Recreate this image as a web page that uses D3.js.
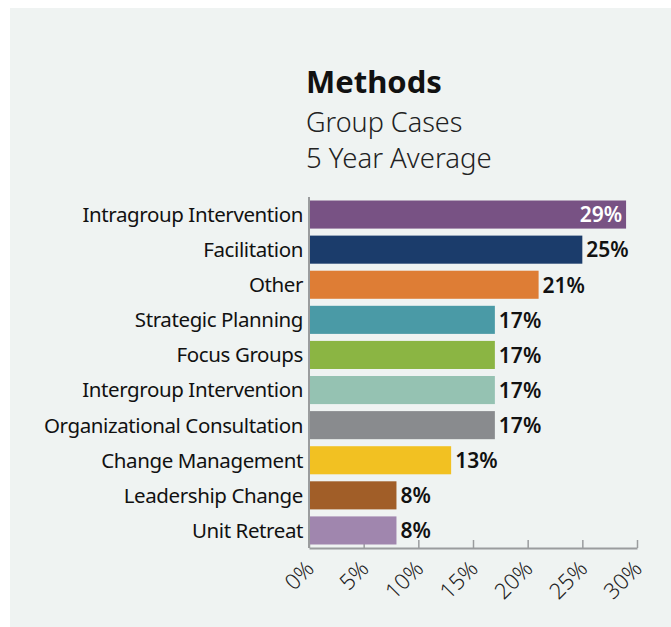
<!DOCTYPE html>
<html>
<head>
<meta charset="utf-8">
<script src="https://cdn.jsdelivr.net/npm/d3@7"></script>
<style>
body { margin: 0; background: #fff; }
text { font-family: "Noto Sans", sans-serif; }
</style>
</head>
<body>
<div id="chart"></div>
<script>
var categories = ["Intragroup Intervention", "Facilitation", "Other", "Strategic Planning",
  "Focus Groups", "Intergroup Intervention", "Organizational Consultation",
  "Change Management", "Leadership Change", "Unit Retreat"];
var values = [29, 25, 21, 17, 17, 17, 17, 13, 8, 8];
var colors = ["#785284", "#1b3c6b", "#de7d35", "#4a9aa6", "#8bb543", "#95c2b2",
  "#898b8e", "#f2c122", "#a15e28", "#a086ae"];
var tickValues = [0, 5, 10, 15, 20, 25, 30];

var W = 671, H = 627;
var margin = {top: 197, left: 309, right: 34, bottom: 79};
var width = W - margin.left - margin.right,
    height = H - margin.top - margin.bottom;

var svg = d3.select("#chart").append("svg")
  .attr("width", W).attr("height", H);

svg.append("rect")
  .attr("x", 10).attr("y", 8)
  .attr("width", W - 10).attr("height", H - 8)
  .attr("fill", "#eff3f2");

// titles
svg.append("text").attr("x", 306).attr("y", 93)
  .attr("font-size", 31).attr("font-weight", 700).attr("fill", "#111")
  .text("Methods");
svg.append("text").attr("x", 306).attr("y", 132)
  .attr("font-size", 27).attr("font-weight", 300).attr("fill", "#222")
  .text("Group Cases");
svg.append("text").attr("x", 306).attr("y", 168)
  .attr("font-size", 27.5).attr("font-weight", 300).attr("fill", "#222")
  .text("5 Year Average");

var g = svg.append("g")
  .attr("transform", "translate(" + margin.left + "," + margin.top + ")");

var x = d3.scaleLinear().domain([0, 30]).range([0, width]);
var y = d3.scaleBand().domain(categories).range([0, height])
  .paddingInner(0.2).paddingOuter(0.1);

// x axis with inner ticks
var xAxis = g.append("g")
  .attr("transform", "translate(0," + height + ")")
  .call(d3.axisBottom(x).tickValues(tickValues).tickSize(-8).tickSizeOuter(0)
    .tickFormat(function(d) { return d + "%"; }));
xAxis.select(".domain").attr("stroke", "#9a9c9e").attr("stroke-width", 2);
xAxis.selectAll(".tick line").attr("stroke", "#9a9c9e").attr("stroke-width", 1.5);
xAxis.selectAll(".tick text")
  .attr("font-size", 22).attr("font-weight", 300).attr("fill", "#222")
  .attr("text-anchor", "end")
  .attr("transform", "translate(6,22) rotate(-45)")
  .attr("x", 0).attr("y", 0).attr("dy", 0);

// bars
g.selectAll(".bar").data(values).enter().append("rect")
  .attr("class", "bar")
  .attr("x", 1)
  .attr("y", function(d, i) { return y(categories[i]); })
  .attr("width", function(d) { return x(d) - 1; })
  .attr("height", y.bandwidth())
  .attr("fill", function(d, i) { return colors[i]; });

// y axis line
g.append("line")
  .attr("x1", 0).attr("x2", 0).attr("y1", 0).attr("y2", height)
  .attr("stroke", "#9a9c9e").attr("stroke-width", 2);

// category labels
g.selectAll(".cat").data(categories).enter().append("text")
  .attr("class", "cat")
  .attr("x", -6)
  .attr("y", function(d) { return y(d) + y.bandwidth() / 2; })
  .attr("dy", "0.36em")
  .attr("text-anchor", "end")
  .attr("font-size", 20.5).attr("fill", "#111")
  .attr("letter-spacing", -0.4)
  .text(function(d) { return d; });

// value labels
g.selectAll(".val").data(values).enter().append("text")
  .attr("class", "val")
  .attr("x", function(d, i) { return i === 0 ? x(d) - 4 : x(d) + 4; })
  .attr("y", function(d, i) { return y(categories[i]) + y.bandwidth() / 2; })
  .attr("dy", "0.37em")
  .attr("text-anchor", function(d, i) { return i === 0 ? "end" : "start"; })
  .attr("font-size", 21).attr("font-weight", 600)
  .attr("fill", function(d, i) { return i === 0 ? "#fff" : "#111"; })
  .text(function(d) { return d + "%"; });
</script>
</body>
</html>
